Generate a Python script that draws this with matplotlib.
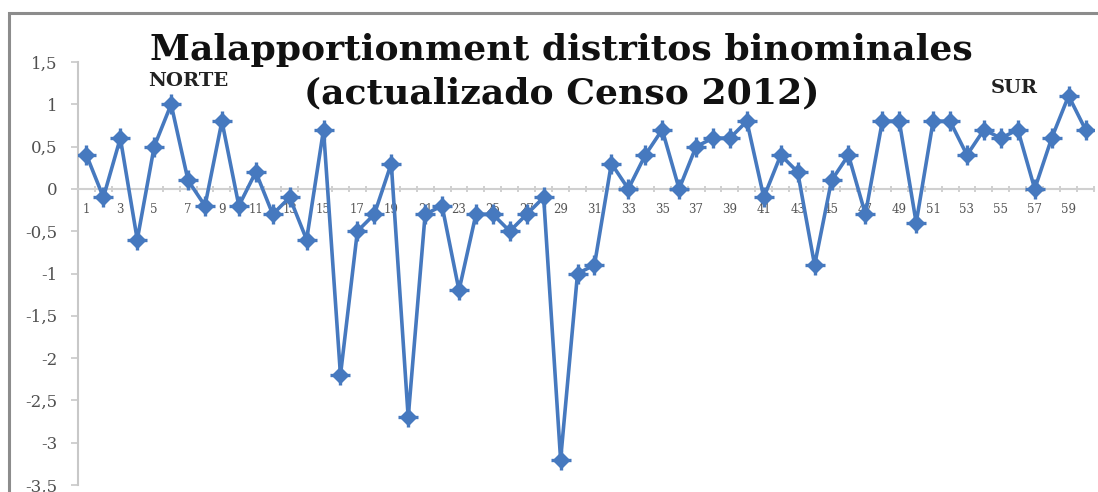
import matplotlib
matplotlib.use("Agg")
import matplotlib.pyplot as plt
from matplotlib.patches import Rectangle

plt.rcParams["font.family"] = ["DejaVu Serif"]

districts = list(range(1, 61))
malapportionment = [
    0.4, -0.1, 0.6, -0.6, 0.5, 1.0, 0.1, -0.2, 0.8, -0.2,
    0.2, -0.3, -0.1, -0.6, 0.7, -2.2, -0.5, -0.3, 0.3, -2.7,
    -0.3, -0.2, -1.2, -0.3, -0.3, -0.5, -0.3, -0.1, -3.2, -1.0,
    -0.9, 0.3, 0.0, 0.4, 0.7, 0.0, 0.5, 0.6, 0.6, 0.8,
    -0.1, 0.4, 0.2, -0.9, 0.1, 0.4, -0.3, 0.8, 0.8, -0.4,
    0.8, 0.8, 0.4, 0.7, 0.6, 0.7, 0.0, 0.6, 1.1, 0.7,
]
y_ticks = [1.5, 1, 0.5, 0, -0.5, -1, -1.5, -2, -2.5, -3, -3.5]
title_lines = ["Malapportionment distritos binominales", "(actualizado Censo 2012)"]

W, H = 1098, 492
fig = plt.figure(figsize=(W / 100, H / 100), dpi=100)
fig.patch.set_facecolor("white")

# outer chart frame
fig.patches.append(Rectangle((9 / W, -0.1), 1.2, (H - 13) / H + 0.1, transform=fig.transFigure,
                             fill=False, edgecolor="#8c8c8c", linewidth=2.2))

ax = fig.add_axes([78 / W, (H - 485) / H, (1094 - 78) / W, (485 - 62) / H])
ax.set_facecolor("none")

blue = "#4679bf"
ax.plot(districts, malapportionment, color=blue, linewidth=2.6, zorder=3)
ax.plot(districts, malapportionment, linestyle="none", marker="D", markersize=8,
        color=blue, zorder=4)
ax.plot(districts, malapportionment, linestyle="none", marker="+", markersize=14,
        markeredgewidth=2.4, color=blue, zorder=4)

ax.set_xlim(0.5, 60.5)
ax.set_ylim(-3.5, 1.5)

for s in ["top", "right"]:
    ax.spines[s].set_visible(False)
ax.spines["left"].set_color("#c8c8c8")
ax.spines["left"].set_linewidth(1.5)
ax.spines["bottom"].set_position(("data", 0))
ax.spines["bottom"].set_color("#d0d0d0")
ax.spines["bottom"].set_linewidth(1.5)

ax.set_yticks(y_ticks)
ax.set_yticklabels([("%g" % v).replace(".", ",") for v in y_ticks])
ax.set_xticks(districts)
ax.set_xticklabels([str(d) if d % 2 == 1 else "" for d in districts])
ax.set_xticks([d + 0.5 for d in [0] + districts], minor=True)

ax.tick_params(axis="y", direction="out", length=5, color="#c8c8c8", width=1.2, pad=10,
               labelsize=12, labelcolor="#505050")
ax.tick_params(axis="x", which="major", length=0, pad=10.5, labelsize=8.5, labelcolor="#555555")
ax.tick_params(axis="x", which="minor", direction="inout", length=4, color="#c8c8c8", width=1.2)

title_kw = dict(ha="center", va="center", fontweight="bold", fontsize=26, color="#111111")
fig.text(561 / W, 1 - 50 / H, title_lines[0], **title_kw)
fig.text(562 / W, 1 - 93 / H, title_lines[1], **title_kw)
fig.text(148 / W, 1 - 81 / H, "NORTE", ha="left", va="center",
         fontweight="bold", fontsize=14, color="#222222")
fig.text(991 / W, 1 - 88 / H, "SUR", ha="left", va="center",
         fontweight="bold", fontsize=14, color="#222222")

fig.savefig("out.png", dpi=100, facecolor="white")
